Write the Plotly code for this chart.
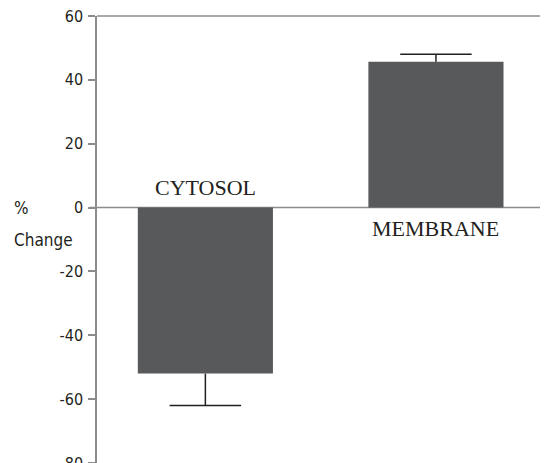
import plotly.graph_objects as go

categories = ["CYTOSOL", "MEMBRANE"]
values = [-52, 45.7]
err_up = [0, 2.3]
err_down = [10, 0]
y_ticks = [60, 40, 20, 0, -20, -40, -60, -80]

BAR = "#58595b"
AXIS = "#8c8c8c"
ERR = "#231f20"
NARROW = "Liberation Sans Narrow, Arial Narrow, DejaVu Sans Condensed, sans-serif"
SERIF = "Liberation Serif, Times New Roman, serif"

xpos = list(range(len(categories)))
cap = 0.155

fig = go.Figure()
fig.add_trace(go.Bar(x=xpos, y=values, width=0.586, marker=dict(color=BAR, line=dict(width=0)),
                     hoverinfo="skip", showlegend=False))

# error bars (stem + outer cap) from data
ex, ey = [], []
for i, v in enumerate(values):
    end = v + err_up[i] - err_down[i]
    ex += [xpos[i], xpos[i], None, xpos[i] - cap, xpos[i] + cap, None]
    ey += [v, end, None, end, end, None]
fig.add_trace(go.Scatter(x=ex, y=ey, mode="lines", line=dict(color=ERR, width=1.5),
                         hoverinfo="skip", showlegend=False))

# category labels: above the zero line for negative bars, below for positive
for i, c in enumerate(categories):
    above = values[i] < 0
    fig.add_annotation(x=xpos[i], y=0, text=c, showarrow=False,
                       yanchor="bottom" if above else "top",
                       yshift=6 if above else -6,
                       font=dict(family=SERIF, size=22, color="#231f20"))

fig.add_annotation(xref="paper", yref="y", x=-0.188, y=0, text="%", showarrow=False,
                   xanchor="left", yanchor="middle", font=dict(family=NARROW, size=17, color="#231f20"))
fig.add_annotation(xref="paper", yref="y", x=-0.188, y=-10, text="Change", showarrow=False,
                   xanchor="left", yanchor="middle", font=dict(family=NARROW, size=17, color="#231f20"))

# zero line and top frame line
fig.add_shape(type="line", xref="paper", yref="y", x0=-0.016, x1=1, y0=0, y1=0,
              line=dict(color=AXIS, width=1.5), layer="below")
fig.add_shape(type="line", xref="paper", yref="paper", x0=0, x1=1, y0=1, y1=1,
              line=dict(color=AXIS, width=1.5), layer="above")

fig.update_layout(
    width=540, height=455,
    margin=dict(l=89, r=0, t=8, b=0, pad=0, autoexpand=False),
    plot_bgcolor="white", paper_bgcolor="white",
    xaxis=dict(range=[-0.47, 1.486], showticklabels=False, showgrid=False, zeroline=False,
               showline=False, ticks="", automargin=False),
    yaxis=dict(range=[min(y_ticks), max(y_ticks)], tickvals=y_ticks, ticktext=[str(t) for t in y_ticks],
               showgrid=False, zeroline=False, showline=True, linecolor=AXIS, linewidth=1.5,
               ticks="outside", ticklen=7, tickcolor=AXIS, tickwidth=1.5,
               ticklabelstandoff=2, ticklabeloverflow="allow", automargin=False,
               tickfont=dict(family=NARROW, size=16, color="#231f20")),
)

fig.write_html("out.html")
